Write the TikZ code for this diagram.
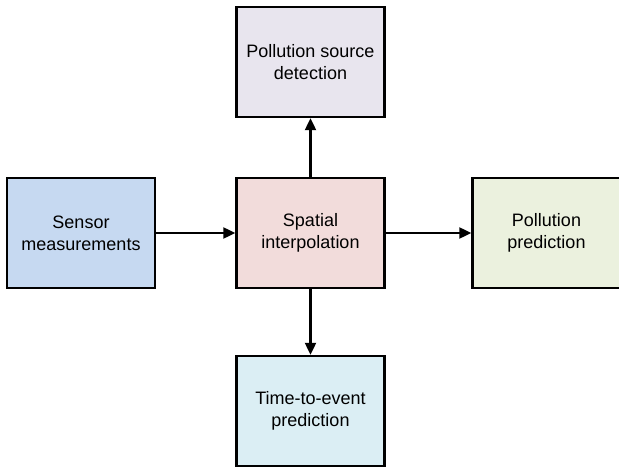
\documentclass[tikz,border=0pt]{standalone}
\usepackage{fontspec}
\setmainfont{Liberation Sans}
\usetikzlibrary{arrows.meta}
\definecolor{sensorblue}{HTML}{C6D9F1}
\definecolor{interppink}{HTML}{F2DCDB}
\definecolor{predgreen}{HTML}{EBF1DE}
\definecolor{sourcelilac}{HTML}{E8E5EE}
\definecolor{eventaqua}{HTML}{DBEEF4}
\begin{document}
\begin{tikzpicture}[x=1pt, y=-1pt, every node/.style={font=\fontsize{18}{21.7}\selectfont}]
  \tikzstyle{stagebox}=[draw,line width=2.4pt,minimum width=148pt,minimum height=110pt,align=center,inner sep=0pt]
  \tikzstyle{flow}=[line width=2.2pt,-{Triangle[length=12pt,width=11pt]}]
  \useasboundingbox (0,0) rectangle (619,468);
  \clip (0,0) rectangle (619,468);
  \node[stagebox,fill=sensorblue] (sensor) at (81,233) {Sensor\\measurements};
  \node[stagebox,fill=interppink] (interp) at (310.5,233) {Spatial\\interpolation};
  % right box runs past the page edge
  \node[stagebox,fill=predgreen,minimum width=156pt] (pred) at (550.5,233) {\hspace*{-8pt}Pollution\\\hspace*{-8pt}prediction};
  \node[stagebox,fill=sourcelilac] (source) at (310.5,62) {Pollution source\\detection};
  \node[stagebox,fill=eventaqua] (event) at (310.5,411) {Time-to-event\\prediction};
  \draw[flow] (sensor) -- (interp);
  \draw[flow] (interp) -- (pred);
  \draw[flow] (interp) -- (source);
  \draw[flow] (interp) -- (event);
\end{tikzpicture}
\end{document}
